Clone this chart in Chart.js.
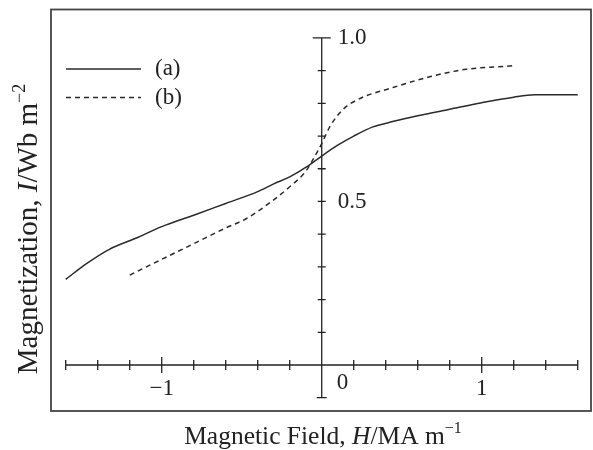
<!DOCTYPE html>
<html><head><meta charset="utf-8">
<script src="https://cdn.jsdelivr.net/npm/chart.js@4/dist/chart.umd.min.js"></script>
<style>html,body{margin:0;padding:0;background:#fff;}canvas{display:block;}</style>
</head><body>
<canvas id="c" width="593" height="450"></canvas>
<script>
// ---- data ----
const seriesLabels = ['(a)', '(b)'];
const fieldA = [-1.6, -1.47, -1.33, -1.15, -1.0, -0.8, -0.6, -0.4, -0.3, -0.2, -0.1, 0.0, 0.1, 0.2, 0.32, 0.45, 0.6, 0.8, 1.0, 1.2, 1.33, 1.6];
const magA   = [0.262, 0.31, 0.353, 0.39, 0.423, 0.458, 0.494, 0.53, 0.554, 0.575, 0.604, 0.639, 0.672, 0.700, 0.728, 0.745, 0.762, 0.782, 0.802, 0.819, 0.826, 0.826];
const fieldB = [-1.2, -1.0, -0.8, -0.6, -0.47, -0.3, -0.2, -0.1, -0.05, 0.0, 0.05, 0.13, 0.24, 0.43, 0.68, 0.9, 1.2];
const magB   = [0.275, 0.323, 0.371, 0.419, 0.448, 0.505, 0.545, 0.592, 0.632, 0.677, 0.728, 0.780, 0.815, 0.846, 0.882, 0.904, 0.915];
const xTickMarks = [-1.6, -1.4, -1.2, -1.0, -0.8, -0.6, -0.4, -0.2, 0.2, 0.4, 0.6, 0.8, 1.0, 1.2, 1.4, 1.6];
const xLabelValues = [-1, 0, 1];
const xTickLabels = ['\u22121', '0', '1'];
const yTickMarks = [-0.1, 0.1, 0.2, 0.3, 0.4, 0.5, 0.6, 0.7, 0.8, 0.9, 1.0];
const yLabelValues = [0.5, 1.0];
const yTickLabels = ['0.5', '1.0'];
const xTitleParts = [['Magnetic Field, ', ''], ['H', 'italic'], ['/MA m', ''], ['\u22121', 'sup']];
const yTitleParts = [['Magnetization, ', ''], ['I', 'italic'], ['/Wb m', ''], ['\u22122', 'sup']];

const INK = '#222';
const FONT = '"Liberation Serif", "DejaVu Serif", serif';

function drawRich(ctx, parts, size) {
  let total = 0;
  const fonts = parts.map(([t, s]) => {
    if (s === 'italic') return 'italic ' + size + 'px ' + FONT;
    if (s === 'sup') return Math.round(size * 0.62) + 'px ' + FONT;
    return size + 'px ' + FONT;
  });
  parts.forEach(([t], i) => { ctx.font = fonts[i]; total += ctx.measureText(t).width; });
  let x = -total / 2;
  parts.forEach(([t, s], i) => {
    ctx.font = fonts[i];
    ctx.fillText(t, x, s === 'sup' ? -size * 0.42 : 0);
    x += ctx.measureText(t).width;
  });
}

const decor = {
  id: 'decor',
  beforeDatasetsDraw(chart) {
    const {ctx, chartArea: a, scales: {x, y}} = chart;
    ctx.save();
    ctx.strokeStyle = '#444';
    ctx.lineWidth = 1.8;
    ctx.strokeRect(a.left, a.top, a.right - a.left, a.bottom - a.top);
    ctx.strokeStyle = INK;
    ctx.lineWidth = 1.3;
    const y0 = y.getPixelForValue(0);
    const x0 = x.getPixelForValue(0);
    ctx.beginPath();
    ctx.moveTo(x.getPixelForValue(xTickMarks[0]), y0);
    ctx.lineTo(x.getPixelForValue(xTickMarks[xTickMarks.length - 1]), y0);
    xTickMarks.forEach(v => {
      const px = x.getPixelForValue(v);
      const h = Math.abs(Math.abs(v) - 1) < 1e-6 ? 8 : 5;
      ctx.moveTo(px, y0 - h); ctx.lineTo(px, y0 + h);
    });
    ctx.moveTo(x0, y.getPixelForValue(yTickMarks[0]));
    ctx.lineTo(x0, y.getPixelForValue(yTickMarks[yTickMarks.length - 1]));
    yTickMarks.forEach(v => {
      const py = y.getPixelForValue(v);
      const w = Math.abs(v - 1) < 1e-6 ? 9 : (v < 0 ? 5 : 4);
      ctx.moveTo(x0 - w, py); ctx.lineTo(x0 + w, py);
    });
    ctx.stroke();
    ctx.restore();
  },
  afterDatasetsDraw(chart) {
    const {ctx, chartArea: a, scales: {x, y}} = chart;
    ctx.save();
    ctx.fillStyle = INK;
    const x0 = x.getPixelForValue(0);
    const y0 = y.getPixelForValue(0);
    ctx.font = '23px ' + FONT;
    ctx.textBaseline = 'middle';
    ctx.textAlign = 'left';
    yLabelValues.forEach((v, i) => ctx.fillText(yTickLabels[i], x0 + 16, y.getPixelForValue(v)));
    xLabelValues.forEach((v, i) => {
      if (v === 0) { ctx.textAlign = 'left'; ctx.fillText(xTickLabels[i], x0 + 15, y0 + 18); }
      else { ctx.textAlign = 'center'; ctx.fillText(xTickLabels[i], x.getPixelForValue(v), y0 + 24); }
    });
    const ds = chart.data.datasets;
    const legY = [69, 97.5];
    ds.forEach((d, i) => {
      ctx.beginPath();
      ctx.strokeStyle = d.borderColor;
      ctx.lineWidth = d.borderWidth;
      ctx.setLineDash(d.borderDash || []);
      ctx.moveTo(66, legY[i]); ctx.lineTo(141, legY[i]);
      ctx.stroke();
      ctx.setLineDash([]);
      ctx.textAlign = 'left';
      ctx.fillText(d.label, 155, legY[i]);
    });
    ctx.textBaseline = 'alphabetic';
    ctx.textAlign = 'left';
    ctx.save();
    ctx.translate((a.left + a.right) / 2 + 2, 444);
    drawRich(ctx, xTitleParts, 25.5);
    ctx.restore();
    ctx.save();
    ctx.translate(37, 229);
    ctx.rotate(-Math.PI / 2);
    drawRich(ctx, yTitleParts, 29);
    ctx.restore();
    ctx.restore();
  }
};

new Chart(document.getElementById('c'), {
  type: 'line',
  data: {
    datasets: [
      { label: seriesLabels[0], data: fieldA.map((v, i) => ({x: v, y: magA[i]})),
        borderColor: '#2a2a2a', borderWidth: 1.5, pointRadius: 0, fill: false,
        cubicInterpolationMode: 'monotone' },
      { label: seriesLabels[1], data: fieldB.map((v, i) => ({x: v, y: magB[i]})),
        borderColor: '#2a2a2a', borderWidth: 1.5, borderDash: [5, 4], pointRadius: 0, fill: false,
        cubicInterpolationMode: 'monotone' }
    ]
  },
  options: {
    responsive: false,
    animation: false,
    devicePixelRatio: 1,
    layout: { padding: { left: 51, top: 9.5, right: 2, bottom: 39 } },
    scales: {
      x: { type: 'linear', min: -1.692, max: 1.683, display: false },
      y: { type: 'linear', min: -0.1407, max: 1.087, display: false }
    },
    plugins: { legend: { display: false }, tooltip: { enabled: false } }
  },
  plugins: [decor]
});
</script>
</body></html>
